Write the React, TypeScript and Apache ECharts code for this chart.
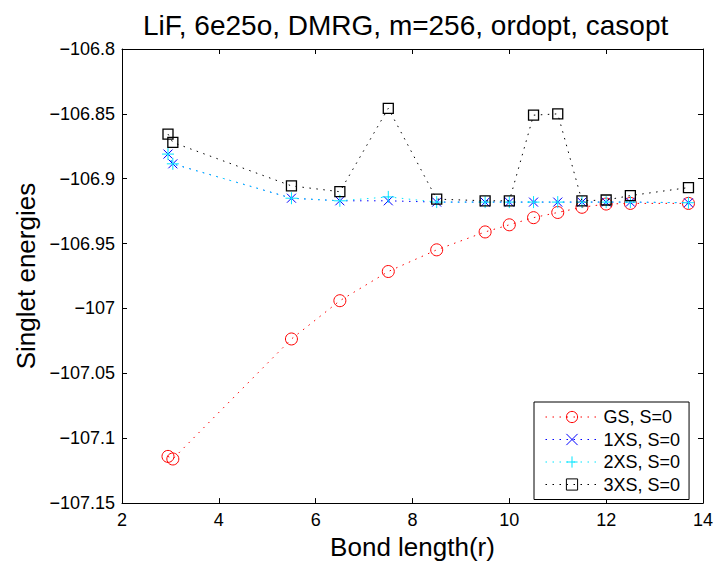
import React, { useEffect, useRef } from 'react';
import * as echarts from 'echarts';

const bondLengths = [2.95, 3.05, 5.5, 6.5, 7.5, 8.5, 9.5, 10, 10.5, 11, 11.5, 12, 12.5, 13.7];
const gsEnergies = [-107.114, -107.116, -107.0235, -106.994, -106.9715, -106.9548, -106.941, -106.9355, -106.930, -106.926, -106.922, -106.9195, -106.919, -106.919];
const xs1Energies = [-106.881, -106.8885, -106.915, -106.917, -106.917, -106.918, -106.918, -106.918, -106.918, -106.918, -106.918, -106.918, -106.918, -106.9185];
const xs2Energies = [-106.881, -106.8885, -106.915, -106.917, -106.914, -106.918, -106.918, -106.918, -106.918, -106.918, -106.918, -106.918, -106.918, -106.9185];
const xs3Energies = [-106.8656, -106.872, -106.9055, -106.910, -106.8457, -106.9157, -106.917, -106.917, -106.851, -106.850, -106.917, -106.9164, -106.913, -106.9068];
const seriesNames = ['GS, S=0', '1XS, S=0', '2XS, S=0', '3XS, S=0'];
const seriesColors = ['#ff0000', '#0000ff', '#00e5ff', '#000000'];
const titleText = 'LiF, 6e25o, DMRG, m=256, ordopt, casopt';
const xAxisTitle = 'Bond length(r)';
const yAxisTitle = 'Singlet energies';

const FONT = '"Liberation Sans", Arial, Helvetica, sans-serif';

const fmtY = (v: number) => {
  const r = Math.round(v * 1000) / 1000;
  return String(r).replace('-', '\u2212');
};

export default function App() {
  const ref = useRef<HTMLDivElement>(null);
  useEffect(() => {
    if (!ref.current) return;
    const chart = echarts.init(ref.current, undefined, { renderer: 'svg' });
    const allValues = [gsEnergies, xs1Energies, xs2Energies, xs3Energies];
    const symbols = [
      'circle',
      'path://M0,0L10,10M10,0L0,10',
      'path://M5,0L5,10M0,5L10,5',
      'rect',
    ];
    const sizes = [12, 9, 12, 10];
    const series = seriesNames.map((name, k) => ({
      name,
      type: 'line',
      data: bondLengths.map((x, i) => [x, allValues[k][i]]),
      symbol: symbols[k],
      symbolSize: sizes[k],
      showSymbol: true,
      lineStyle: { color: seriesColors[k], width: 1, type: [1.5, 5.5] },
      itemStyle: { color: 'rgba(0,0,0,0)', borderColor: seriesColors[k], borderWidth: k === 3 ? 1.3 : 1 },
      emphasis: { disabled: true },
      z: 2 + k,
    }));
    const axisLine = { show: true, lineStyle: { color: '#000', width: 1 } };
    const axisTick = { show: true, inside: true, length: 5, lineStyle: { color: '#000', width: 1 } };
    chart.setOption({
      animation: false,
      backgroundColor: '#fff',
      title: {
        text: titleText,
        left: 138,
        top: 6,
        textStyle: { fontFamily: FONT, fontSize: 28, fontWeight: 'normal', color: '#000' },
      },
      legend: {
        data: seriesNames,
        orient: 'vertical',
        left: 534,
        top: 402,
        borderColor: '#000',
        borderWidth: 1,
        backgroundColor: '#fff',
        padding: [6, 9, 6, 11],
        itemWidth: 53,
        itemHeight: 14,
        itemGap: 4.5,
        selectedMode: false,
        itemStyle: { borderWidth: 1 },
        lineStyle: { width: 1 },
        textStyle: { fontFamily: FONT, fontSize: 18, color: '#000', lineHeight: 18 },
      },
      grid: { left: 122, right: 12, top: 49, bottom: 57 },
      xAxis: [
        {
          type: 'value', min: 2, max: 14, interval: 2, position: 'bottom',
          axisLine, axisTick, splitLine: { show: false },
          axisLabel: { fontFamily: FONT, fontSize: 18, color: '#000', margin: 8 },
          name: xAxisTitle, nameLocation: 'middle', nameGap: 30,
          nameTextStyle: { fontFamily: FONT, fontSize: 26, color: '#000' },
        },
        {
          type: 'value', min: 2, max: 14, interval: 2, position: 'top',
          axisLine, axisTick, splitLine: { show: false }, axisLabel: { show: false },
        },
      ],
      yAxis: [
        {
          type: 'value', min: -107.15, max: -106.8, interval: 0.05, position: 'left',
          axisLine, axisTick, splitLine: { show: false },
          axisLabel: { fontFamily: FONT, fontSize: 18, color: '#000', margin: 7, formatter: fmtY },
          name: yAxisTitle, nameLocation: 'middle', nameGap: 83,
          nameTextStyle: { fontFamily: FONT, fontSize: 26, color: '#000' },
        },
        {
          type: 'value', min: -107.15, max: -106.8, interval: 0.05, position: 'right',
          axisLine, axisTick, splitLine: { show: false }, axisLabel: { show: false },
        },
      ],
      series,
    });
    return () => chart.dispose();
  }, []);
  return (
    <div
      ref={ref}
      style={{ position: 'absolute', left: 0, top: 0, width: 716, height: 565 }}
    />
  );
}
